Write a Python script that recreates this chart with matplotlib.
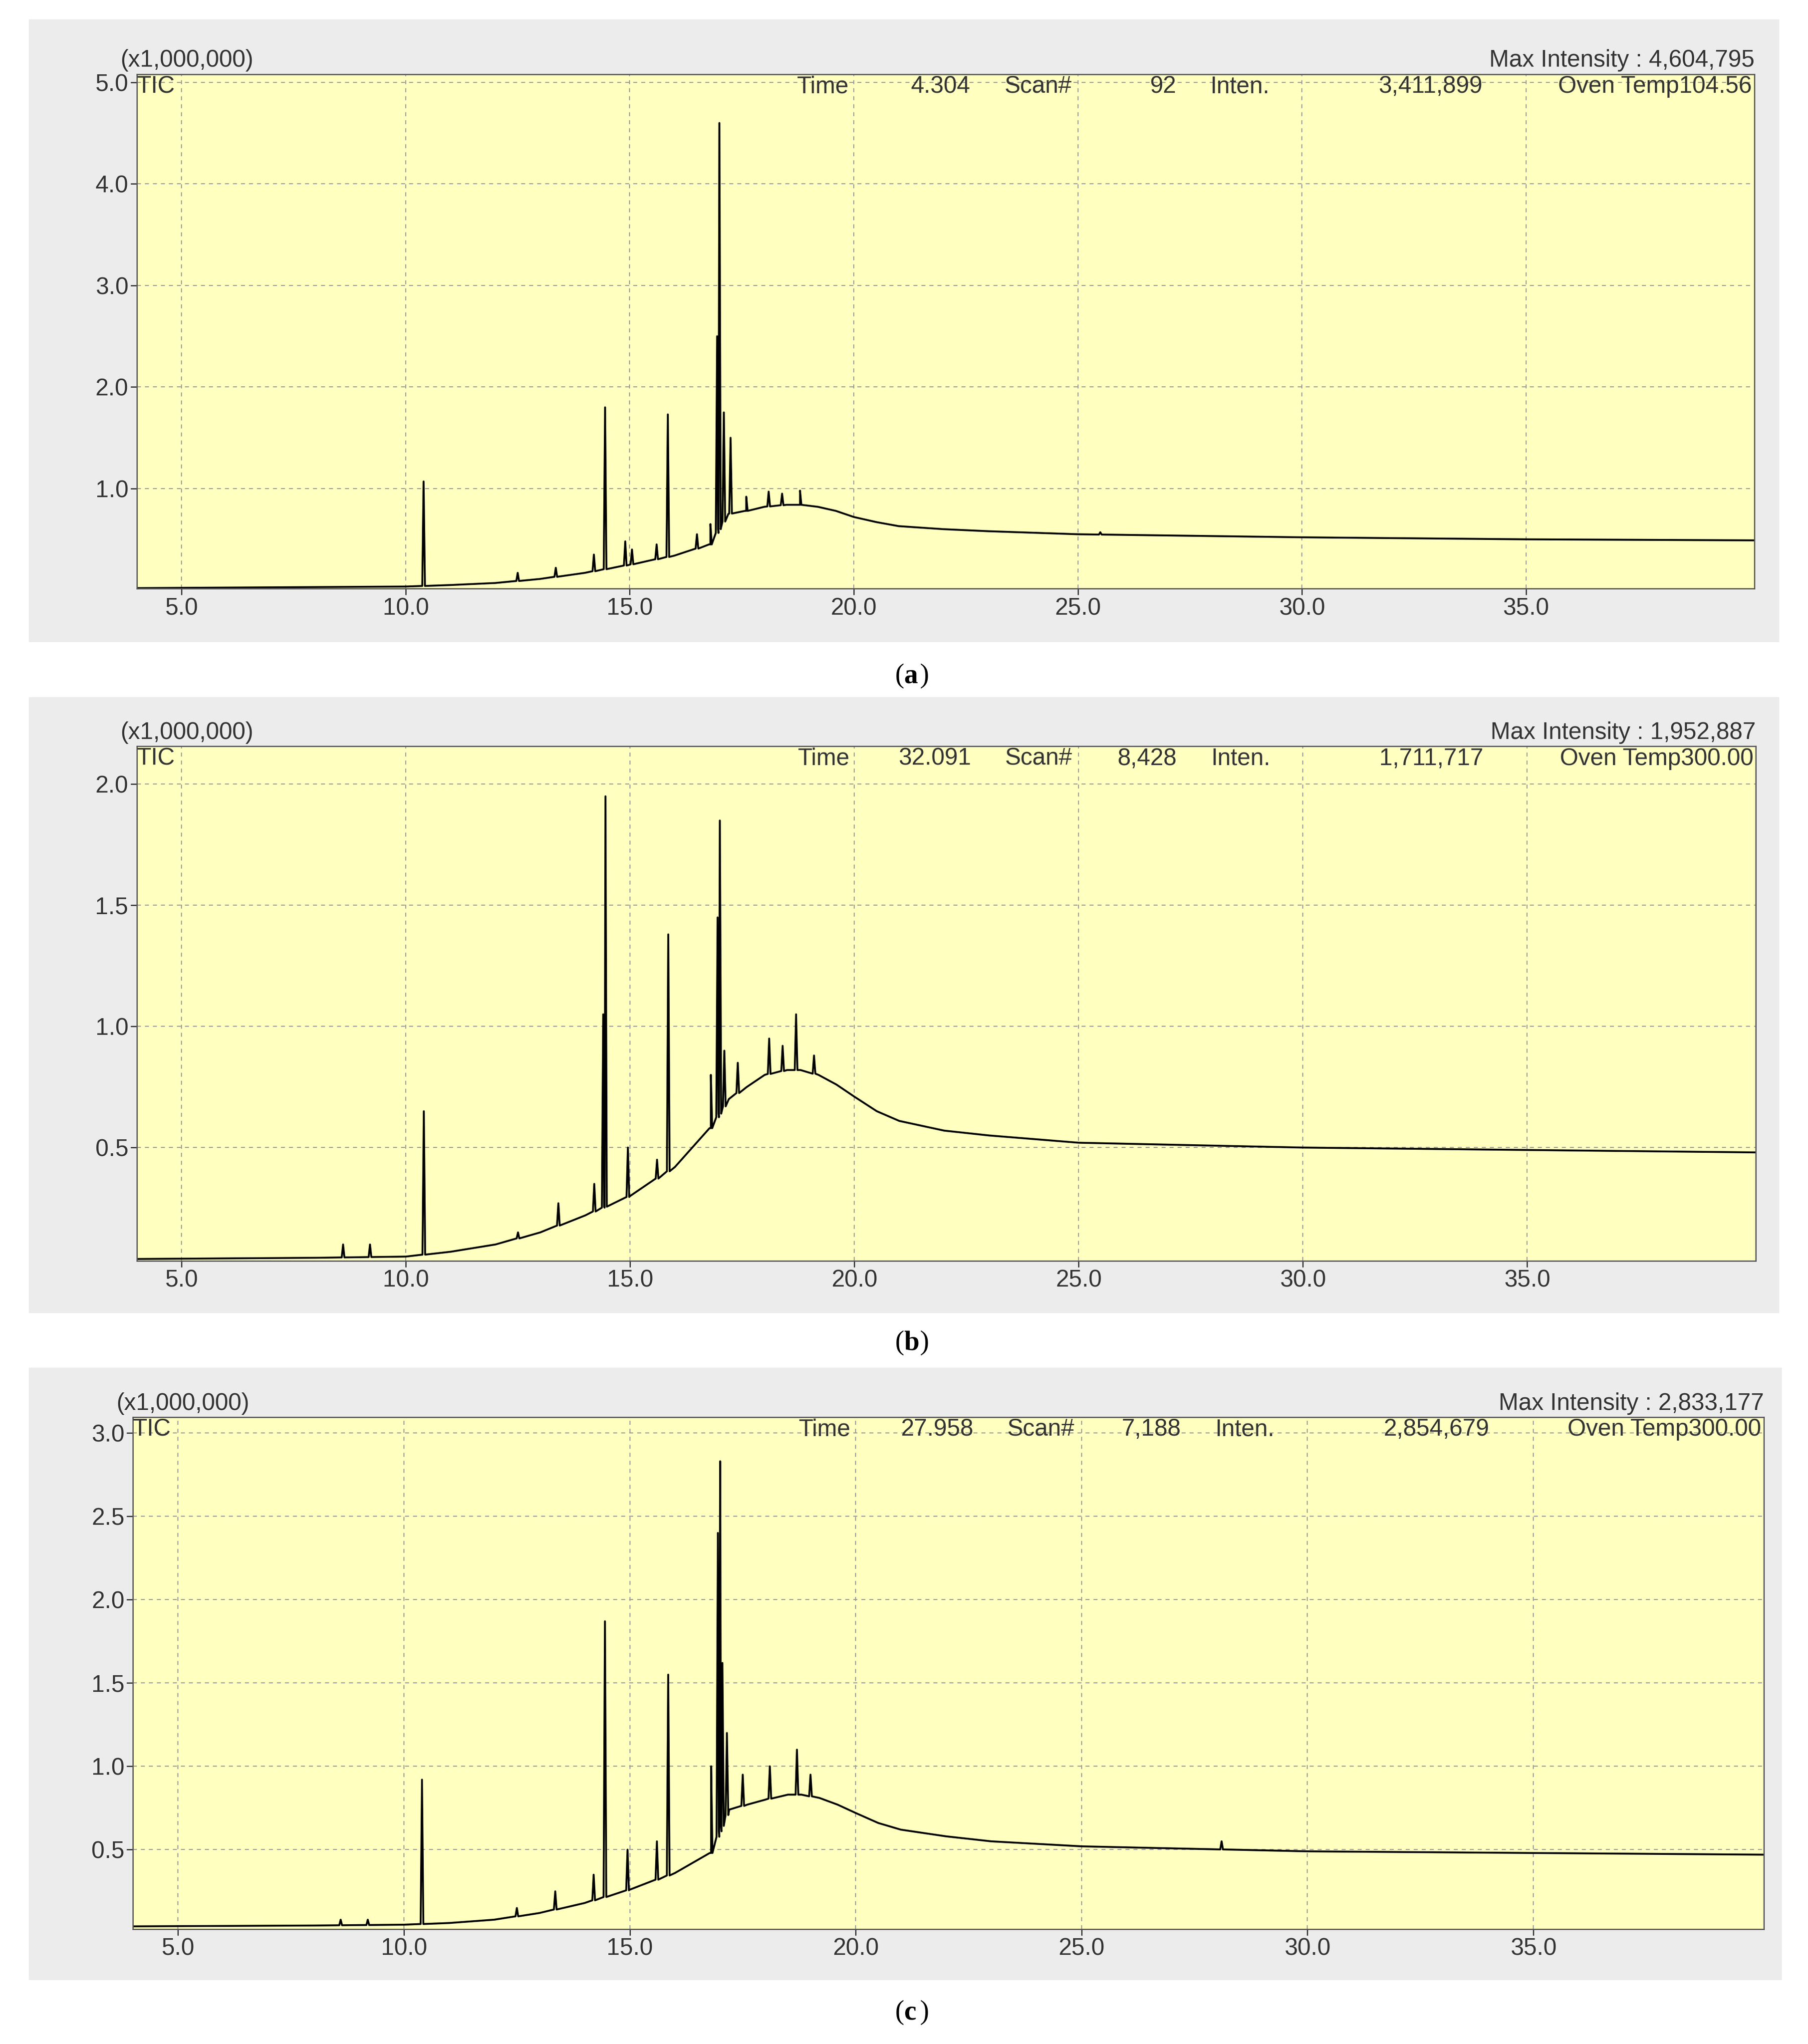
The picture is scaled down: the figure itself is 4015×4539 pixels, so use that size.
import matplotlib
matplotlib.use("Agg")
import matplotlib.pyplot as plt
import numpy as np
from matplotlib.patches import Rectangle

W, H = 4015, 4539
S = 4015 / 1388.0

# ---- data ----
base_a_t = [4.0, 8, 10, 11, 12, 13, 14, 15, 16, 16.8, 17.2, 17.6, 18, 18.5, 18.8, 19.2, 19.6, 20.0, 20.5, 21, 22, 23, 25, 30, 35, 40.1]
base_a_v = [0.02, 0.03, 0.035, 0.05, 0.07, 0.11, 0.17, 0.25, 0.34, 0.45, 0.75, 0.78, 0.82, 0.84, 0.84, 0.82, 0.78, 0.72, 0.67, 0.63, 0.6, 0.58, 0.55, 0.52, 0.5, 0.49]
peak_a_t = [10.4, 12.5, 13.35, 14.2, 14.45, 14.9, 15.05, 15.6, 15.85, 16.5, 16.8, 16.95, 17.0, 17.1, 17.25, 17.6, 18.1, 18.4, 18.8, 25.5]
peak_a_v = [1.07, 0.17, 0.22, 0.35, 1.8, 0.48, 0.4, 0.45, 1.73, 0.55, 0.65, 2.5, 4.6, 1.75, 1.5, 0.92, 0.97, 0.95, 0.98, 0.57]

base_b_t = [4.0, 8, 10, 11, 12, 13, 14, 15, 16, 16.8, 17.2, 17.6, 18, 18.5, 18.8, 19.2, 19.6, 20.0, 20.5, 21, 22, 23, 25, 30, 35, 40.1]
base_b_v = [0.04, 0.045, 0.05, 0.07, 0.1, 0.15, 0.22, 0.3, 0.42, 0.58, 0.7, 0.75, 0.8, 0.82, 0.82, 0.8, 0.76, 0.71, 0.65, 0.61, 0.57, 0.55, 0.52, 0.5, 0.49, 0.48]
peak_b_t = [8.6, 9.2, 10.4, 12.5, 13.4, 14.2, 14.4, 14.45, 14.95, 15.6, 15.85, 16.8, 16.95, 17.0, 17.1, 17.4, 18.1, 18.4, 18.7, 19.1]
peak_b_v = [0.1, 0.1, 0.65, 0.15, 0.27, 0.35, 1.05, 1.95, 0.5, 0.45, 1.38, 0.8, 1.45, 1.85, 0.9, 0.85, 0.95, 0.92, 1.05, 0.88]

base_c_t = [4.0, 8, 10, 11, 12, 13, 14, 15, 16, 16.8, 17.2, 17.6, 18, 18.5, 18.8, 19.2, 19.6, 20.0, 20.5, 21, 22, 23, 25, 30, 35, 40.1]
base_c_v = [0.04, 0.045, 0.05, 0.06, 0.08, 0.12, 0.18, 0.26, 0.36, 0.48, 0.74, 0.77, 0.8, 0.83, 0.83, 0.81, 0.77, 0.72, 0.66, 0.62, 0.58, 0.55, 0.52, 0.49, 0.48, 0.47]
peak_c_t = [8.6, 9.2, 10.4, 12.5, 13.35, 14.2, 14.45, 14.95, 15.6, 15.85, 16.8, 16.95, 17.0, 17.05, 17.15, 17.5, 18.1, 18.7, 19.0, 28.1]
peak_c_v = [0.08, 0.08, 0.92, 0.15, 0.25, 0.35, 1.87, 0.5, 0.55, 1.55, 1.0, 2.4, 2.83, 1.62, 1.2, 0.95, 1.0, 1.1, 0.95, 0.55]

headers = [
    ("4,604,795", ["Time", "4.304", "Scan#", "92", "Inten.", "3,411,899", "Oven Temp104.56"]),
    ("1,952,887", ["Time", "32.091", "Scan#", "8,428", "Inten.", "1,711,717", "Oven Temp300.00"]),
    ("2,833,177", ["Time", "27.958", "Scan#", "7,188", "Inten.", "2,854,679", "Oven Temp300.00"]),
]
yticks = [[1.0, 2.0, 3.0, 4.0, 5.0], [0.5, 1.0, 1.5, 2.0], [0.5, 1.0, 1.5, 2.0, 2.5, 3.0]]
ylims = [(0.013, 5.08), (0.032, 2.156), (0.023, 3.094)]
xticks = [5, 10, 15, 20, 25, 30, 35]
captions = ["a", "b", "c"]

boxes = [(22, 15, 1366, 493), (22, 535, 1366, 1008), (22, 1050, 1368, 1520)]
axes_r = [(105, 57, 1347, 452), (105, 573, 1348, 968), (102, 1088, 1354, 1481)]
cap_y = [519, 1031, 1545]
xlims = [(4.0, 40.1), (4.0, 40.1), (4.0, 40.1)]

fig = plt.figure(figsize=(W / 100, H / 100), dpi=100)
fig.patch.set_facecolor("white")
DW, DH = 1388.0, 4539 / S
fs = 34
fam = "Liberation Sans"

def fx(x): return x / DW
def fy(y): return 1 - y / DH

data = [(base_a_t, base_a_v, peak_a_t, peak_a_v),
        (base_b_t, base_b_v, peak_b_t, peak_b_v),
        (base_c_t, base_c_v, peak_c_t, peak_c_v)]

for i in range(3):
    x0, y0, x1, y1 = boxes[i]
    fig.patches.append(Rectangle((fx(x0), fy(y1)), fx(x1) - fx(x0), fy(y0) - fy(y1),
                                 transform=fig.transFigure, facecolor="#ececec", edgecolor="none", zorder=-10))
    a0, b0, a1, b1 = axes_r[i]
    ax = fig.add_axes([fx(a0), fy(b1), fx(a1) - fx(a0), fy(b0) - fy(b1)])
    ax.set_facecolor("#ffffc0")
    bt, bv, pt, pv = data[i]
    t = list(bt); v = list(bv)
    for p, h in zip(pt, pv):
        b = float(np.interp(p, bt, bv))
        t += [p - 0.03, p, p + 0.03]
        v += [b, h, b]
    order = np.argsort(t, kind="stable")
    ax.plot(np.array(t)[order], np.array(v)[order], color="black", lw=3)
    ax.set_xlim(*xlims[i]); ax.set_ylim(*ylims[i])
    ax.set_xticks(xticks); ax.set_xticklabels([f"{x:.1f}" for x in xticks], family=fam)
    ax.set_yticks(yticks[i]); ax.set_yticklabels([f"{y:.1f}" for y in yticks[i]], family=fam)
    ax.grid(True, color="#9a9a9a", linestyle=(0, (4, 4)), lw=1.6)
    ax.tick_params(labelsize=fs + 4, length=10, width=2, colors="#333333", labelcolor="#333333")
    for s in ax.spines.values():
        s.set_color("#555555"); s.set_linewidth(2)
    kw = dict(transform=ax.transAxes, fontsize=fs + 4, color="#333333", family=fam)
    ax.text(-0.01, 1.005, "(x1,000,000)", ha="left", va="bottom", **kw)
    ax.text(1.0, 1.005, "Max Intensity : " + headers[i][0], ha="right", va="bottom", **kw)
    ax.text(0.0, 0.998, "TIC", ha="left", va="top", **kw)
    h = headers[i][1]
    pos = [(612, "left"), (745, "right"), (771, "left"), (903, "right"), (929, "left"), (1138, "right"), (1345, "right")]
    for (px, ha), s in zip(pos, h):
        ax.text((px - 105) / 1242.0, 0.998, s, ha=ha, va="top", **kw)
    fig.text(0.5, fy(cap_y[i]), "(", fontsize=44, ha="right", va="center", family="Liberation Serif")
    fig.text(0.5, fy(cap_y[i]), captions[i], fontsize=44, ha="left", va="center",
             family="Liberation Serif", fontweight="bold")
    fig.text(0.5 + 0.0085, fy(cap_y[i]), ")", fontsize=44, ha="left", va="center", family="Liberation Serif")

fig.savefig("out.png", dpi=100)
